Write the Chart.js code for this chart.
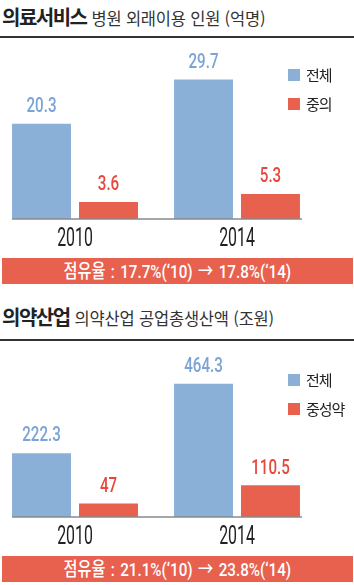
<!DOCTYPE html>
<html lang="ko">
<head>
<meta charset="utf-8">
<script src="https://cdn.jsdelivr.net/npm/chart.js@4.4.1/dist/chart.umd.min.js"></script>
<style>
  body { margin: 0; width: 354px; height: 585px; background: #fff; position: relative; overflow: hidden;
         font-family: 'Noto Sans CJK KR', sans-serif; }
  .title { position: absolute; left: 2px; white-space: nowrap; color: #222; }
  .title b { font-size: 20px; font-weight: 700; letter-spacing: -1.5px; }
  .title span { font-size: 16.5px; font-weight: 400; letter-spacing: -0.2px; color: #333; margin-left: 5px; }
  .rule { position: absolute; left: 0; width: 354px; height: 2px; background: #333; }
  .chart { position: absolute; left: -6px; width: 360px; }
  .legend { position: absolute; left: 288px; }
  .legend div { height: 29px; position: relative; font-size: 15px; letter-spacing: -1px; color: #222; white-space: nowrap; }
  .legend i { position: absolute; left: 0; top: 0; width: 12px; height: 12px; }
  .legend em { position: absolute; left: 18px; top: -5px; font-style: normal; }
  .banner { position: absolute; left: 2px; width: 351px; height: 26px; background: #E8604E; color: #fff;
            text-align: center; line-height: 26px; white-space: nowrap; }
  .banner span { display: inline-block; font-size: 19px; font-weight: 500; word-spacing: 2px;
                 font-family: Roboto, 'Noto Sans CJK KR', sans-serif; transform: scaleX(0.8); }
</style>
</head>
<body>
<div class="title" style="top:2px"><b>의료서비스</b><span>병원 외래이용 인원 (억명)</span></div>
<div class="rule" style="top:36px"></div>
<div class="chart" style="top:40px;height:210px"><canvas id="chart1"></canvas></div>
<div class="legend" id="legend1" style="top:69px"></div>
<div class="banner" style="top:258px"><span id="banner1"></span></div>

<div class="title" style="top:302px"><b>의약산업</b><span>의약산업 공업총생산액 (조원)</span></div>
<div class="rule" style="top:339px"></div>
<div class="chart" style="top:342px;height:206px"><canvas id="chart2"></canvas></div>
<div class="legend" id="legend2" style="top:374px"></div>
<div class="banner" style="top:556px"><span id="banner2"></span></div>

<script>
const years = ['2010', '2014'];

// 병원 외래이용 인원 (억명)
const medNames = ['전체', '중의'];
const medTotal = [20.3, 29.7];
const medChinese = [3.6, 5.3];
const medShare = '점유율 : 17.7%(‘10) → 17.8%(‘14)';

// 의약산업 공업총생산액 (조원)
const pharmaNames = ['전체', '중성약'];
const pharmaTotal = [222.3, 464.3];
const pharmaChinese = [47, 110.5];
const pharmaShare = '점유율 : 21.1%(‘10) → 23.8%(‘14)';

const barColors = ['#8BB0D8', '#E8604E'];
const labelColors = ['#7BA4D6', '#E8473B'];

// 좁은 글꼴이 없어서 가로로 눌러서 그림
function narrowText(ctx, text, x, y, sx) {
    ctx.save();
    ctx.translate(x, y);
    ctx.scale(sx, 1);
    ctx.fillText(text, 0, 0);
    ctx.restore();
}

// 막대 위 값, 연도 라벨, 바닥선
const valueLabels = {
    id: 'valueLabels',
    afterDatasetsDraw(chart) {
        const ctx = chart.ctx;
        const area = chart.chartArea;
        ctx.save();
        ctx.textAlign = 'center';
        ctx.textBaseline = 'middle';
        ctx.font = '500 21px Roboto';
        chart.data.datasets.forEach((ds, i) => {
            chart.getDatasetMeta(i).data.forEach((bar, j) => {
                ctx.fillStyle = labelColors[i];
                narrowText(ctx, String(ds.data[j]), bar.x, bar.y - 17, 0.72);
            });
        });
        ctx.font = '400 26px Roboto';
        ctx.fillStyle = '#222';
        const xs = chart.scales.x;
        xs.getLabels().forEach((lab, i) => {
            narrowText(ctx, lab, xs.getPixelForValue(i), area.bottom + 20, 0.61);
        });
        const first = chart.getDatasetMeta(0).data[0];
        const last = chart.getDatasetMeta(1).data[1];
        ctx.strokeStyle = '#8a8a8a';
        ctx.lineWidth = 1.5;
        ctx.beginPath();
        ctx.moveTo(first.x - first.width / 2, area.bottom);
        ctx.lineTo(last.x + last.width / 2 + 2, area.bottom);
        ctx.stroke();
        ctx.restore();
    }
};

function makeChart(id, legendId, names, totals, chinese, max) {
    new Chart(document.getElementById(id), {
        type: 'bar',
        data: {
            labels: years,
            datasets: [
                { label: names[0], data: totals, backgroundColor: barColors[0] },
                { label: names[1], data: chinese, backgroundColor: barColors[1] }
            ]
        },
        options: {
            responsive: true,
            maintainAspectRatio: false,
            animation: false,
            layout: { padding: { top: 0, right: 36, left: 0, bottom: 31 } },
            datasets: { bar: { categoryPercentage: 0.827, barPercentage: 0.88 } },
            plugins: { legend: { display: false }, tooltip: { enabled: false } },
            scales: {
                x: { display: false },
                y: { display: false, min: 0, max: max }
            }
        },
        plugins: [valueLabels]
    });
    const legend = document.getElementById(legendId);
    names.forEach((n, i) => {
        const row = document.createElement('div');
        row.innerHTML = '<i style="background:' + barColors[i] + '"></i><em>' + n + '</em>';
        legend.appendChild(row);
    });
}

makeChart('chart1', 'legend1', medNames, medTotal, medChinese, 38.1);
makeChart('chart2', 'legend2', pharmaNames, pharmaTotal, pharmaChinese, 610);
document.getElementById('banner1').textContent = medShare;
document.getElementById('banner2').textContent = pharmaShare;
</script>
</body>
</html>
